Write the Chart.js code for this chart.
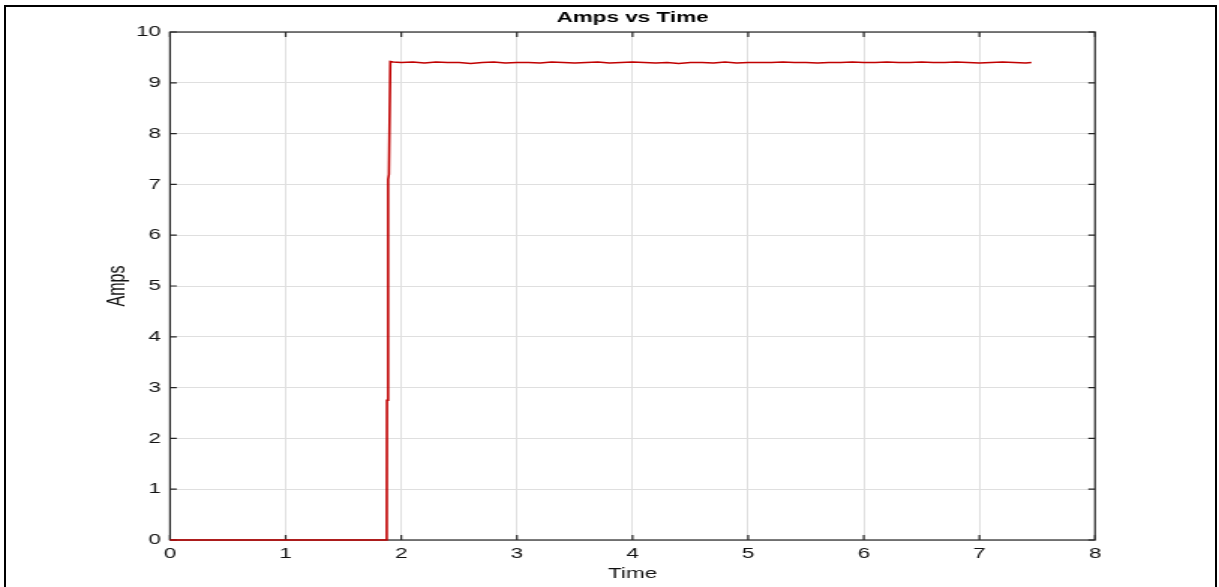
<!DOCTYPE html>
<html>
<head>
<meta charset="utf-8">
<script src="https://cdn.jsdelivr.net/npm/chart.js@4/dist/chart.umd.min.js"></script>
<style>
  html, body { margin:0; padding:0; background:#fff; overflow:hidden; }
  #frame { position:absolute; left:4px; top:5px; width:1213px; height:640px; border:2px solid #000; box-sizing:border-box; }
  #wrap { position:absolute; left:0; top:0; width:813px; height:587px; transform:scaleX(1.4994); transform-origin:0 0; }
</style>
</head>
<body>
<div id="wrap"><canvas id="c"></canvas></div>
<div id="frame"></div>
<script>
// ---- data ----
const chartTitle = 'Amps vs Time';
const xAxisLabel = 'Time';
const yAxisLabel = 'Amps';
const xTicks = [0, 1, 2, 3, 4, 5, 6, 7, 8];
const yTicks = [0, 1, 2, 3, 4, 5, 6, 7, 8, 9, 10];
const times = [0, 1.874, 1.876, 1.884, 1.888, 1.893, 1.905, 1.93,
  2.0, 2.1, 2.2, 2.3, 2.4, 2.5, 2.6, 2.7, 2.8, 2.9,
  3.0, 3.1, 3.2, 3.3, 3.4, 3.5, 3.6, 3.7, 3.8, 3.9,
  4.0, 4.1, 4.2, 4.3, 4.4, 4.5, 4.6, 4.7, 4.8, 4.9,
  5.0, 5.1, 5.2, 5.3, 5.4, 5.5, 5.6, 5.7, 5.8, 5.9,
  6.0, 6.1, 6.2, 6.3, 6.4, 6.5, 6.6, 6.7, 6.8, 6.9,
  7.0, 7.1, 7.2, 7.3, 7.4, 7.45];
const amps = [0, 0, 2.75, 2.78, 7.10, 7.20, 9.42, 9.41,
  9.40, 9.41, 9.39, 9.41, 9.40, 9.40, 9.38, 9.40, 9.41, 9.39,
  9.40, 9.40, 9.39, 9.41, 9.40, 9.39, 9.40, 9.41, 9.39, 9.40,
  9.41, 9.40, 9.39, 9.40, 9.38, 9.40, 9.40, 9.39, 9.41, 9.39,
  9.40, 9.40, 9.40, 9.41, 9.40, 9.40, 9.39, 9.40, 9.40, 9.41,
  9.40, 9.40, 9.41, 9.40, 9.40, 9.41, 9.40, 9.40, 9.41, 9.40,
  9.39, 9.40, 9.41, 9.40, 9.39, 9.40];

const points = times.map((t, i) => ({ x: t, y: amps[i] }));

const boxPlugin = {
  id: 'boxPlugin',
  beforeDatasetsDraw(chart) {
    const { ctx, chartArea: { left, right, top, bottom }, scales: { x, y } } = chart;
    ctx.save();
    ctx.strokeStyle = '#262626';
    ctx.lineWidth = 1.2;
    ctx.strokeRect(left, top, right - left, bottom - top);
    ctx.beginPath();
    xTicks.forEach(v => {
      const px = x.getPixelForValue(v);
      ctx.moveTo(px, bottom); ctx.lineTo(px, bottom - 5);
      ctx.moveTo(px, top); ctx.lineTo(px, top + 5);
    });
    yTicks.forEach(v => {
      const py = y.getPixelForValue(v);
      ctx.moveTo(left, py); ctx.lineTo(left + 4.5, py);
      ctx.moveTo(right, py); ctx.lineTo(right - 4.5, py);
    });
    ctx.stroke();
    ctx.restore();
  }
};

const FONT = "'Liberation Sans', Arial, sans-serif";

new Chart(document.getElementById('c'), {
  type: 'scatter',
  data: {
    datasets: [{
      data: points,
      showLine: true,
      borderColor: '#c00000',
      backgroundColor: '#c00000',
      borderWidth: 1.6,
      pointRadius: 0,
      tension: 0,
      clip: false
    }]
  },
  options: {
    responsive: true,
    maintainAspectRatio: false,
    animation: false,
    layout: { padding: { left: 0, right: 82.7, top: 0, bottom: 0 } },
    plugins: {
      legend: { display: false },
      tooltip: { enabled: false },
      title: {
        display: true,
        text: chartTitle,
        fullSize: false,
        color: '#000',
        font: { family: FONT, size: 15, weight: 'bold', lineHeight: 1.2 },
        padding: { top: 8.8, bottom: 5.2 }
      }
    },
    scales: {
      x: {
        type: 'linear',
        min: 0, max: 8,
        afterBuildTicks: s => { s.ticks = xTicks.map(v => ({ value: v })); },
        afterFit: s => { s.height = 47; },
        ticks: { color: '#111', font: { family: FONT, size: 15 }, padding: 5, maxRotation: 0 },
        grid: { color: '#dfdfdf', lineWidth: 1, drawTicks: false },
        border: { display: false },
        title: { display: true, text: xAxisLabel, color: '#111', font: { family: FONT, size: 15 }, padding: { top: 0, bottom: 4 } }
      },
      y: {
        type: 'linear',
        min: 0, max: 10,
        afterBuildTicks: s => { s.ticks = yTicks.map(v => ({ value: v })); },
        afterFit: s => { s.width = 113.4; },
        ticks: { color: '#111', font: { family: FONT, size: 15 }, padding: 6 },
        grid: { color: '#dfdfdf', lineWidth: 1, drawTicks: false },
        border: { display: false },
        title: { display: true, text: yAxisLabel, color: '#111', font: { family: FONT, size: 16 }, padding: { top: 68.5, bottom: 0 } }
      }
    }
  },
  plugins: [boxPlugin]
});
</script>
</body>
</html>
